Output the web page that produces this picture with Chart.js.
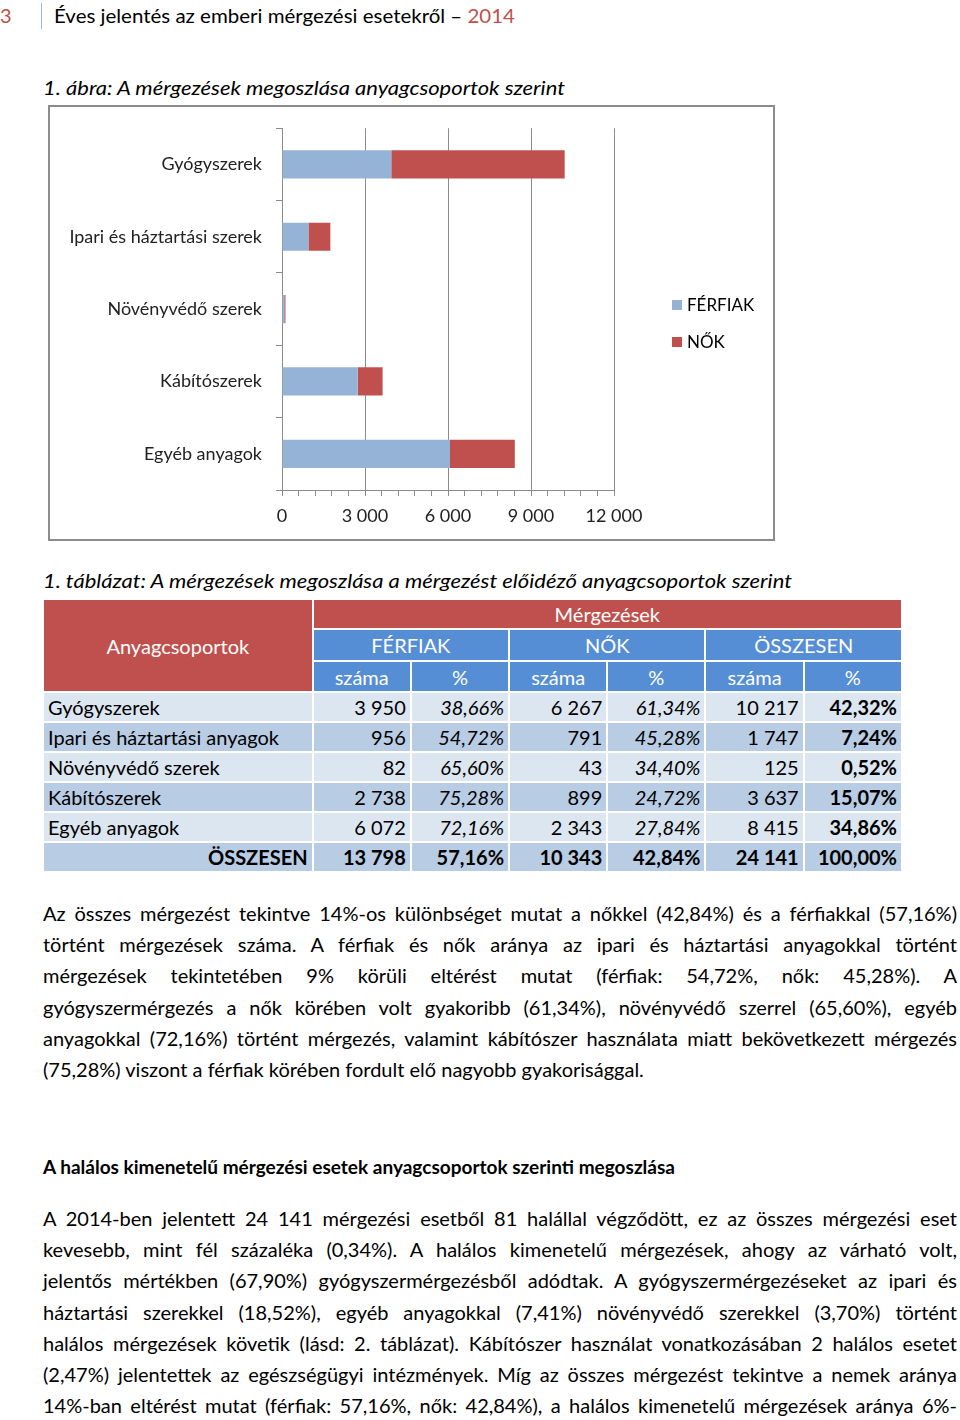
<!DOCTYPE html>
<html lang="hu">
<head>
<meta charset="utf-8">
<script src="https://cdn.jsdelivr.net/npm/chart.js"></script>
<style>
  body { margin: 0; width: 960px; height: 1420px; position: relative; background: #fff; font-family: Lato, "Open Sans", sans-serif; color: #000; overflow: hidden; }
  .abs { position: absolute; white-space: nowrap; }
  .red { color: #C0504D; }
  .cap { font-style: italic; font-size: 20px; }
  #chart-box { position: absolute; left: 48px; top: 105px; width: 723px; height: 432px; border: 2px solid #8c8c8c; }
  #legend { position: absolute; left: 672px; top: 286px; font-size: 17px; }
  #legend div { height: 37px; display: flex; align-items: center; }
  #legend span.sw { display: inline-block; width: 10px; height: 10px; margin-right: 5px; }
  table { position: absolute; left: 42px; top: 598px; border-collapse: separate; border-spacing: 2px; table-layout: fixed; width: 861px; font-size: 20px; }
  td { padding: 0 4px; overflow: hidden; white-space: nowrap; }
  .hr { background: #C0504D; color: #fff; text-align: center; }
  .hb { background: #558ED5; color: #fff; text-align: center; }
  .l td { background: #DCE6F1; }
  .d td { background: #B8CCE4; }
  td.n { text-align: right; }
  td.i { font-style: italic; text-align: right; }
  td.b { font-weight: bold; text-align: right; }
  .tot td { font-weight: bold; }
  .para { position: absolute; left: 43px; width: 914px; font-size: 20px; line-height: 31.2px; }
  .para div { text-align: justify; text-align-last: justify; }
  .para div.last { text-align-last: left; }
</style>
</head>
<body>
<div class="abs red" style="left:0;top:3px;font-size:20px;">3</div>
<div class="abs" style="left:41px;top:3px;width:1px;height:26px;background:#9fb7d4;"></div>
<div class="abs" style="left:54px;top:3px;font-size:20px;" data-fit="461">Éves jelentés az emberi mérgezési esetekről – <span class="red">2014</span></div>

<div class="abs cap" style="left:43px;top:75px;" data-fit="522">1. ábra: A mérgezések megoszlása anyagcsoportok szerint</div>

<div id="chart-box"><canvas id="chart"></canvas></div>
<div id="legend"></div>

<div class="abs cap" style="left:43px;top:568px;" data-fit="749">1. táblázat: A mérgezések megoszlása a mérgezést előidéző anyagcsoportok szerint</div>

<table id="tbl">
  <colgroup><col style="width:267px"><col style="width:96px"><col style="width:96px"><col style="width:96px"><col style="width:96px"><col style="width:96px"><col style="width:96px"></colgroup>
  <tbody id="tbody">
    <tr style="height:28px"><td class="hr" rowspan="3">Anyagcsoportok</td><td class="hr" colspan="6">Mérgezések</td></tr>
    <tr style="height:30px"><td class="hb" colspan="2">FÉRFIAK</td><td class="hb" colspan="2">NŐK</td><td class="hb" colspan="2">ÖSSZESEN</td></tr>
    <tr style="height:29px"><td class="hb">száma</td><td class="hb">%</td><td class="hb">száma</td><td class="hb">%</td><td class="hb">száma</td><td class="hb">%</td></tr>
  </tbody>
</table>

<div class="para" style="top:898px;">
  <div>Az összes mérgezést tekintve 14%-os különbséget mutat a nőkkel (42,84%) és a férfiakkal (57,16%)</div>
  <div>történt mérgezések száma. A férfiak és nők aránya az ipari és háztartási anyagokkal történt</div>
  <div>mérgezések tekintetében 9% körüli eltérést mutat (férfiak: 54,72%, nők: 45,28%). A</div>
  <div>gyógyszermérgezés a nők körében volt gyakoribb (61,34%), növényvédő szerrel (65,60%), egyéb</div>
  <div>anyagokkal (72,16%) történt mérgezés, valamint kábítószer használata miatt bekövetkezett mérgezés</div>
  <div class="last">(75,28%) viszont a férfiak körében fordult elő nagyobb gyakorisággal.</div>
</div>

<div class="abs" style="left:43px;top:1155px;font-size:19px;font-weight:bold;font-family:'Liberation Sans Narrow',Lato,sans-serif;" data-fit="632">A halálos kimenetelű mérgezési esetek anyagcsoportok szerinti megoszlása</div>

<div class="para" style="top:1203px;">
  <div>A 2014-ben jelentett 24 141 mérgezési esetből 81 halállal végződött, ez az összes mérgezési eset</div>
  <div>kevesebb, mint fél százaléka (0,34%). A halálos kimenetelű mérgezések, ahogy az várható volt,</div>
  <div>jelentős mértékben (67,90%) gyógyszermérgezésből adódtak. A gyógyszermérgezéseket az ipari és</div>
  <div>háztartási szerekkel (18,52%), egyéb anyagokkal (7,41%) növényvédő szerekkel (3,70%) történt</div>
  <div>halálos mérgezések követik (lásd: 2. táblázat). Kábítószer használat vonatkozásában 2 halálos esetet</div>
  <div>(2,47%) jelentettek az egészségügyi intézmények. Míg az összes mérgezést tekintve a nemek aránya</div>
  <div>14%-ban eltérést mutat (férfiak: 57,16%, nők: 42,84%), a halálos kimenetelű mérgezések aránya 6%-</div>
</div>

<script>
// chart data
const categories = ['Gyógyszerek', 'Ipari és háztartási szerek', 'Növényvédő szerek', 'Kábítószerek', 'Egyéb anyagok'];
const seriesNames = ['FÉRFIAK', 'NŐK'];
const ferfiak = [3950, 956, 82, 2738, 6072];
const nok = [6267, 791, 43, 899, 2343];
const seriesColors = ['#95B3D7', '#C0504D'];

// table data
const tableRows = ['Gyógyszerek', 'Ipari és háztartási anyagok', 'Növényvédő szerek', 'Kábítószerek', 'Egyéb anyagok'];
const ferfiakPct = ['38,66%', '54,72%', '65,60%', '75,28%', '72,16%'];
const nokPct = ['61,34%', '45,28%', '34,40%', '24,72%', '27,84%'];
const osszesen = [10217, 1747, 125, 3637, 8415];
const osszesenPct = ['42,32%', '7,24%', '0,52%', '15,07%', '34,86%'];
const totalRow = ['ÖSSZESEN', 13798, '57,16%', 10343, '42,84%', 24141, '100,00%'];

function fmt(n) {
  return String(n).replace(/\B(?=(\d{3})+(?!\d))/g, ' ');
}

// build table body
const tbody = document.getElementById('tbody');
tableRows.forEach(function (name, i) {
  const tr = document.createElement('tr');
  tr.className = i % 2 === 0 ? 'l' : 'd';
  tr.style.height = '28px';
  tr.innerHTML = '<td>' + name + '</td>' +
    '<td class="n">' + fmt(ferfiak[i]) + '</td><td class="i">' + ferfiakPct[i] + '</td>' +
    '<td class="n">' + fmt(nok[i]) + '</td><td class="i">' + nokPct[i] + '</td>' +
    '<td class="n">' + fmt(osszesen[i]) + '</td><td class="b">' + osszesenPct[i] + '</td>';
  tbody.appendChild(tr);
});
const trTot = document.createElement('tr');
trTot.className = 'd tot';
trTot.style.height = '28px';
trTot.innerHTML = totalRow.map(function (v) {
  return '<td class="n">' + (typeof v === 'number' ? fmt(v) : v) + '</td>';
}).join('');
tbody.appendChild(trTot);

// fit captions to their measured width
document.querySelectorAll('[data-fit]').forEach(function (el) {
  const target = parseFloat(el.dataset.fit);
  const w = el.getBoundingClientRect().width;
  el.style.transformOrigin = 'left center';
  el.style.transform = 'scaleX(' + (target / w) + ')';
});
// shrink justified lines that would overflow
document.querySelectorAll('.para div').forEach(function (el) {
  el.style.whiteSpace = 'nowrap';
  el.style.display = 'inline-block';
  const w = el.getBoundingClientRect().width;
  const W = 914;
  if (w > W - 2) {
    el.style.fontSize = (20 * (W - 4) / w) + 'px';
  }
  el.style.whiteSpace = '';
  el.style.display = '';
});

const ctx = document.getElementById('chart').getContext('2d');
const chart = new Chart(ctx, {
  type: 'bar',
  data: {
    labels: categories,
    datasets: [
      { label: seriesNames[0], data: ferfiak, backgroundColor: seriesColors[0] },
      { label: seriesNames[1], data: nok, backgroundColor: seriesColors[1] }
    ]
  },
  options: {
    indexAxis: 'y',
    responsive: true,
    maintainAspectRatio: false,
    animation: false,
    devicePixelRatio: 1,
    categoryPercentage: 0.39,
    barPercentage: 1,
    layout: { padding: { left: 0, top: 21, right: 159, bottom: 12 } },
    plugins: { legend: { display: false }, tooltip: { enabled: false } },
    scales: {
      x: {
        stacked: true,
        min: 0,
        max: 12000,
        afterFit: function (s) { s.height = 37; },
        ticks: {
          stepSize: 600,
          autoSkip: false,
          maxRotation: 0,
          padding: 9,
          color: '#222',
          font: { family: 'Lato', size: 18 },
          callback: function (v) { return v % 3000 === 0 ? fmt(v) : ''; }
        },
        grid: {
          color: function (c) { return c.tick && c.tick.value % 3000 === 0 ? '#8c8c8c' : 'rgba(0,0,0,0)'; },
          tickColor: '#8c8c8c',
          tickLength: 6
        },
        border: { color: '#8c8c8c' }
      },
      y: {
        stacked: true,
        afterFit: function (s) { s.width = 232; },
        ticks: { padding: 14, color: '#222', font: { family: 'Lato', size: 18, lineHeight: 0.8 } },
        grid: { drawOnChartArea: false, tickLength: 6, color: '#8c8c8c', offset: true },
        border: { color: '#8c8c8c' }
      }
    }
  }
});

// legend from chart datasets
const legend = document.getElementById('legend');
chart.data.datasets.forEach(function (ds) {
  const d = document.createElement('div');
  d.innerHTML = '<span class="sw" style="background:' + ds.backgroundColor + '"></span>' + ds.label;
  legend.appendChild(d);
});
</script>
</body>
</html>
